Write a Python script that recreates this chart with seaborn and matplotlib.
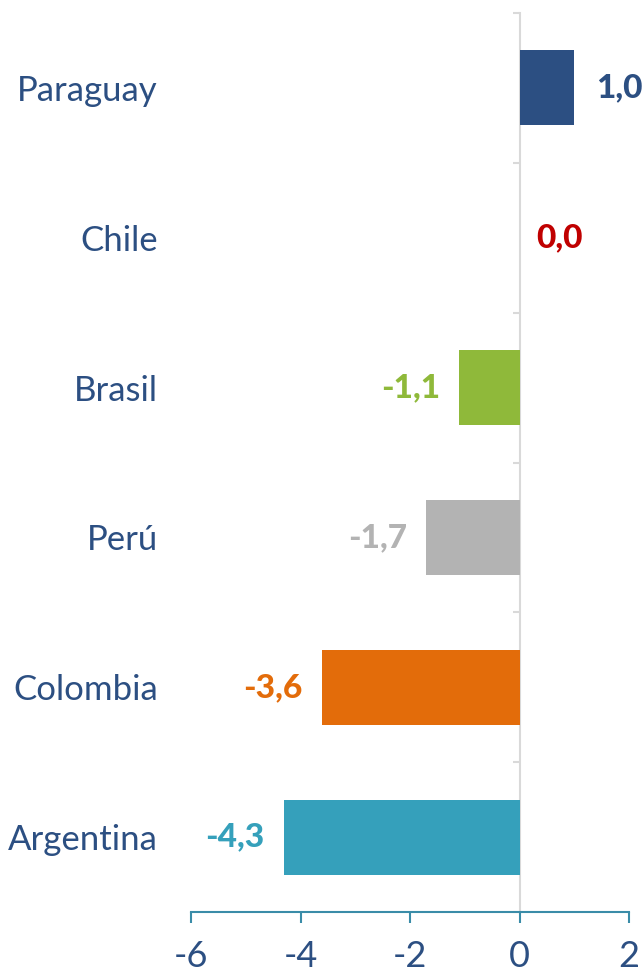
import matplotlib
matplotlib.use("Agg")
import matplotlib.pyplot as plt
import seaborn as sns
import pandas as pd
from matplotlib.ticker import FixedLocator

countries = ["Paraguay", "Chile", "Brasil", "Perú", "Colombia", "Argentina"]
values = [1.0, 0.0, -1.1, -1.7, -3.6, -4.3]
bar_colors = ["#2c4f82", "#c00000", "#8fb93a", "#b3b3b3", "#e36c0a", "#35a0bb"]
x_ticks = [-6, -4, -2, 0, 2]
x_tick_labels = ["-6", "-4", "-2", "0", "2"]

sns.set_theme(style="white")
plt.rcParams["font.family"] = ["Lato", "DejaVu Sans"]

DARK = "#2c4f82"
TEAL = "#3a8ca8"
GRAY = "#d9d9d9"

df = pd.DataFrame({"country": countries, "value": values})

fig = plt.figure(figsize=(6.43, 9.75), dpi=100)
ax = fig.add_axes([191 / 643, 1 - 912 / 975, (629 - 191) / 643, (912 - 13) / 975])

sns.barplot(data=df, y="country", x="value", hue="country", palette=bar_colors,
            orient="h", width=0.5, legend=False, ax=ax, saturation=1, linewidth=0)

ax.set_xlim(-6, 2)
n = len(countries)
ax.set_ylim(n - 0.5, -0.5)
ax.set_xlabel("")
ax.set_ylabel("")

for s in ["top", "left"]:
    ax.spines[s].set_visible(False)
ax.spines["bottom"].set_color(TEAL)
ax.spines["bottom"].set_linewidth(1.5)
ax.spines["right"].set_position(("data", 0))
ax.spines["right"].set_color(GRAY)
ax.spines["right"].set_linewidth(1.5)
ax.spines["right"].set_zorder(0)

ax.set_xticks(x_ticks)
ax.set_xticklabels(x_tick_labels)
ax.tick_params(axis="x", which="major", direction="out", length=8, width=1.5,
               color=TEAL, labelcolor=DARK, labelsize=26, pad=12, bottom=True)

ax.set_yticks(range(n))
ax.set_yticklabels(countries)
ax.tick_params(axis="y", which="major", left=True, right=False, length=0,
               labelsize=25, labelcolor=DARK, pad=24)
ax.yaxis.set_minor_locator(FixedLocator([i - 0.5 for i in range(n + 1)]))
ax.tick_params(axis="y", which="minor", left=False, right=True, direction="in",
               length=5, width=1.5, color=GRAY)

for i, (v, c) in enumerate(zip(values, bar_colors)):
    txt = f"{v:.1f}".replace(".", ",")
    if v >= 0:
        off, ha = (16 if v > 0 else 12), "left"
    else:
        off, ha = -14, "right"
    ax.annotate(txt, xy=(v, i), xytext=(off, 0), textcoords="offset points",
                ha=ha, va="center", color=c, fontsize=24, fontweight="black")

fig.savefig("out.png", dpi=100, facecolor="white")
